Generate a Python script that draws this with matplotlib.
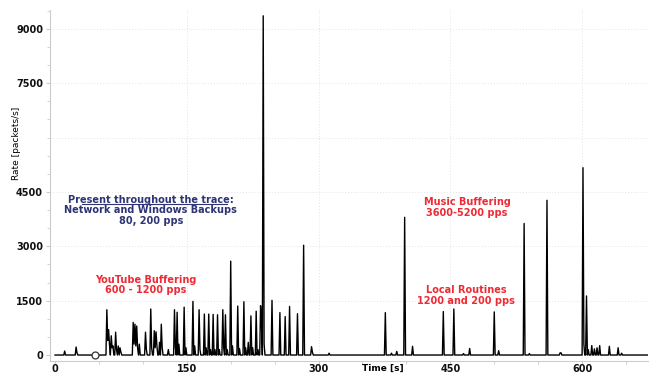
import numpy as np
import matplotlib
matplotlib.use("Agg")
import matplotlib.pyplot as plt
from matplotlib.ticker import MultipleLocator

# packet rate trace, 1 s bins; rate is ~0 outside the bursts listed here
duration = 676
burst_t = [11, 24, 25,
           59, 60, 61, 62, 64, 65, 66, 69, 70, 72, 74, 75,
           89, 90, 91, 92, 93, 94, 96,
           103, 104, 109, 110, 113, 114, 115, 116, 119, 121, 122,
           129, 136, 137, 139, 141, 147, 149, 157, 159, 164, 165, 170, 172,
           175, 177, 180, 182, 185, 187, 191, 192, 194, 196, 200, 202,
           208, 210, 215, 217, 220, 223, 225, 229, 231, 234, 235, 237, 238,
           247, 256, 262, 267, 276, 283, 292, 293, 312,
           376, 383, 389, 398, 407, 442, 454, 465, 472, 500, 505,
           534, 540, 560, 575, 576, 601, 602, 605, 607, 611, 614, 617, 620,
           631, 641, 645]
burst_rate = [110, 220, 60,
              1250, 400, 700, 300, 530, 200, 250, 630, 150, 250, 200, 80,
              900, 300, 850, 250, 800, 200, 300,
              630, 150, 1270, 200, 670, 200, 640, 250, 350, 850, 200,
              150, 1250, 200, 1180, 300, 1320, 200, 1480, 250, 1250, 150, 1130, 200,
              1130, 150, 1120, 150, 1110, 150, 1250, 200, 1110, 150, 2590, 250,
              1350, 180, 1470, 200, 350, 1080, 200, 1210, 150, 1360, 900, 9360, 300,
              1510, 1170, 1060, 1340, 1140, 3030, 230, 80, 50,
              1170, 50, 100, 3800, 240, 1200, 1270, 40, 180, 1190, 120,
              3630, 40, 4270, 60, 60, 5170, 300, 1630, 150, 260, 170, 200, 260,
              240, 200, 50]
marker_t = [46]
marker_rate = [0]

xticks = [0, 150, 300, 450, 600]
yticks = [0, 1500, 3000, 4500, 7500, 9000]
ygrid = [1500, 3000, 4500, 6000, 7500, 9000]

t = np.arange(duration)
rate = np.zeros(duration)
rate[burst_t] = burst_rate

red = "#ee2a34"
navy = "#2e3475"

fig = plt.figure(figsize=(6.52, 3.75), dpi=100)
ax = fig.add_axes([50 / 652, 14 / 375, 598 / 652, 351 / 375])

for g in ygrid:
    ax.axhline(g, color="#e4e4e4", lw=0.7, ls=(0, (1, 2)), zorder=0)
for g in xticks[1:]:
    ax.axvline(g, color="#e4e4e4", lw=0.7, ls=(0, (1, 2)), zorder=0)

ax.plot(t, rate, color="black", lw=1.0, zorder=3)
ax.plot(marker_t, marker_rate, "o", mfc="white", mec="#333333", ms=5, mew=0.9, zorder=4)

ax.set_xlim(-5.7, 675)
ax.set_ylim(-165, 9520)
ax.set_xticks(xticks)
ax.set_yticks(yticks)
ax.xaxis.set_minor_locator(MultipleLocator(50))
ax.yaxis.set_minor_locator(MultipleLocator(500))
ax.tick_params(which="both", color="#cccccc", direction="out")
ax.tick_params(which="major", length=3, labelsize=7, pad=2, labelcolor="#111111")
ax.tick_params(axis="x", which="major", length=2, pad=0.5)
ax.tick_params(which="minor", length=2)
for lab in ax.get_xticklabels() + ax.get_yticklabels():
    lab.set_fontweight("bold")

for s in ["top", "right"]:
    ax.spines[s].set_visible(False)
for s in ["left", "bottom"]:
    ax.spines[s].set_color("#cccccc")
    ax.spines[s].set_linewidth(0.8)

fig.text(17 / 652, 1 - 143 / 375, "Rate [packets/s]", rotation=90,
         ha="center", va="center", fontsize=6.5)
fig.text(383 / 652, 1 - 368 / 375, "Time [s]", ha="center", va="center",
         fontsize=6.5, fontweight="bold")

ax.text(109, 3990, "Present throughout the trace:\nNetwork and Windows Backups\n80, 200 pps",
        ha="center", va="center", fontsize=7, fontweight="bold", color=navy,
        linespacing=1.05, zorder=5)
ax.plot([30.4, 195.5], [4175, 4175], color=navy, lw=0.8, zorder=5)
ax.text(103, 1930, "YouTube Buffering\n600 - 1200 pps", ha="center", va="center",
        fontsize=7, fontweight="bold", color=red, linespacing=1.05, zorder=5)
ax.text(469, 4070, "Music Buffering\n3600-5200 pps", ha="center", va="center",
        fontsize=7, fontweight="bold", color=red, linespacing=1.05, zorder=5)
ax.text(468, 1640, "Local Routines\n1200 and 200 pps", ha="center", va="center",
        fontsize=7, fontweight="bold", color=red, linespacing=1.05, zorder=5)

fig.savefig("out.png", dpi=100)
